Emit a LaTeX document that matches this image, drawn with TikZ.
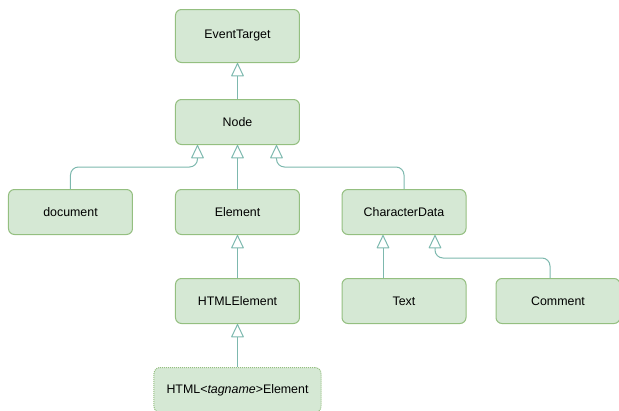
\documentclass[tikz,border=0pt]{standalone}
\usepackage{fontspec}
\setmainfont{Liberation Sans}
\usetikzlibrary{arrows.meta}

\definecolor{boxfill}{HTML}{D5E8D4}
\definecolor{boxline}{HTML}{94BF80}
\definecolor{linkline}{HTML}{7DB8AE}

\begin{document}
\begin{tikzpicture}[node distance=89pt, auto,
  cls/.style={draw=boxline, fill=boxfill, rounded corners=6pt, line width=1pt,
    minimum width=124pt, minimum height=45pt, font=\fontsize{12.4}{14}\selectfont, text=black},
  inh/.style={draw=linkline, line width=1pt, rounded corners=8pt,
    -{Triangle[open, width=13pt, length=14pt, round]}}]
\useasboundingbox (-237.5pt,36pt) rectangle (381.5pt,-374pt);
\node  (et)[cls, minimum height=53pt]  {EventTarget};
\node  (nd)[cls]   [below of = et, node distance=86pt] {Node};
\node  (el)[cls]   [below of = nd, node distance=90pt] {Element};
\node  (doc)[cls]  [left of = el, node distance=167pt] {document};
\node  (cd)[cls]   [right of = el, node distance=166.5pt] {CharacterData};
\node  (hel)[cls]  [below of = el] {HTMLElement};
\node  (tag)[cls, minimum width=167pt, densely dotted] [below of = hel] {HTML<\textit{tagname}>Element};
\node  (txt)[cls]  [below of = cd] {Text};
\node  (cmt)[cls]  [right of = txt, node distance=154pt] {Comment};
\draw[inh] (nd) -- (et);
\draw[inh] (el) -- (nd);
\draw[inh] (doc.north) |- ([xshift=-40pt, yshift=-22pt]nd.south) -- ([xshift=-40pt]nd.south);
\draw[inh] (cd.north) |- ([xshift=39pt, yshift=-22pt]nd.south) -- ([xshift=39pt]nd.south);
\draw[inh] (hel) -- (el);
\draw[inh] (tag) -- (hel);
\draw[inh] ([xshift=-21pt]txt.north) -- ([xshift=-21pt]cd.south);
\draw[inh] ([xshift=-8pt]cmt.north) |- ([xshift=31pt, yshift=-23pt]cd.south) -- ([xshift=31pt]cd.south);
\end{tikzpicture}
\end{document}
